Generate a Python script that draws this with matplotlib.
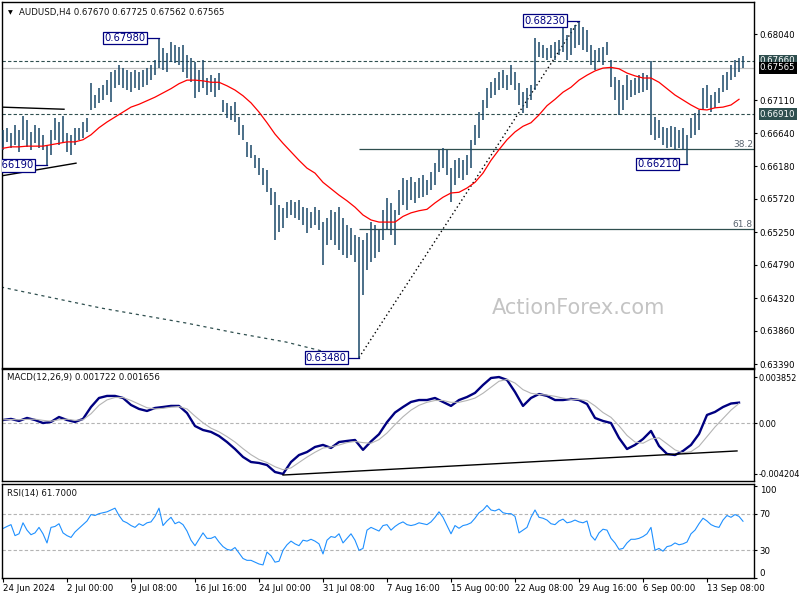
import matplotlib
matplotlib.use("Agg")
import matplotlib.pyplot as plt
from matplotlib.transforms import blended_transform_factory

plt.rcParams['font.family'] = ['DejaVu Sans']

# ---------------- data (8-hour bars) ----------------
highs = [0.6669,0.6672,0.6665,0.6676,0.6669,0.6688,0.6683,0.6666,0.6676,0.6672,
         0.6662,0.6648,0.6669,0.6686,0.6680,0.6688,0.6665,0.6662,0.6672,0.6672,
         0.6680,0.6686,0.6735,0.6718,0.6728,0.6732,0.6739,0.6750,0.6753,0.6760,
         0.6756,0.6753,0.6750,0.6753,0.6750,0.6753,0.6756,0.6760,0.6767,0.6798,
         0.6784,0.6777,0.6793,0.6789,0.6786,0.6789,0.6774,0.6770,0.6765,0.6753,
         0.6767,0.6742,0.6746,0.6742,0.6749,0.6711,0.6707,0.6703,0.6708,0.6687,
         0.6676,0.6652,0.6648,0.6634,0.6629,0.6615,0.6612,0.6587,0.6581,0.6563,
         0.6559,0.6567,0.6570,0.6567,0.6570,0.6560,0.6559,0.6553,0.6560,0.6556,
         0.6539,0.6545,0.6556,0.6553,0.6560,0.6545,0.6535,0.6531,0.6521,0.6518,
         0.6514,0.6524,0.6539,0.6535,0.6528,0.6556,0.6573,0.6566,0.6556,0.6584,
         0.6601,0.6598,0.6603,0.6595,0.6601,0.6605,0.6598,0.6610,0.6622,0.6641,
         0.6643,0.6641,0.6615,0.6626,0.6629,0.6626,0.6634,0.6655,0.6676,0.6694,
         0.6711,0.6728,0.6736,0.6742,0.6750,0.6753,0.6746,0.6760,0.6750,0.6735,
         0.6722,0.6728,0.6732,0.6798,0.6793,0.6789,0.6784,0.6789,0.6793,0.6796,
         0.6820,0.6803,0.6812,0.6817,0.6823,0.6814,0.6810,0.6789,0.6781,0.6784,
         0.6786,0.6793,0.6767,0.6743,0.6739,0.6732,0.6746,0.6739,0.6742,0.6746,
         0.6749,0.6746,0.6766,0.6687,0.6683,0.6673,0.6672,0.6674,0.6673,0.6669,
         0.6672,0.6662,0.6686,0.6693,0.6697,0.6728,0.6732,0.6718,0.6722,0.6728,
         0.6746,0.6750,0.6760,0.6767,0.6770,0.67725]
lows = [0.6641,0.6652,0.6643,0.6648,0.6638,0.6655,0.6645,0.6641,0.6650,0.6643,
        0.6641,0.6619,0.6634,0.6655,0.6648,0.6650,0.6638,0.6634,0.6648,0.6655,
        0.6657,0.6666,0.6697,0.6700,0.6707,0.6711,0.6718,0.6708,0.6728,0.6732,
        0.6728,0.6725,0.6722,0.6728,0.6725,0.6729,0.6732,0.6739,0.6746,0.6756,
        0.6753,0.6750,0.6765,0.6763,0.6760,0.6750,0.6742,0.6736,0.6714,0.6722,
        0.6728,0.6718,0.6722,0.6715,0.6725,0.6694,0.6686,0.6683,0.6680,0.6662,
        0.6655,0.6631,0.6629,0.6615,0.6605,0.6591,0.6581,0.6563,0.6514,0.6525,
        0.6531,0.6545,0.6549,0.6545,0.6542,0.6535,0.6524,0.6531,0.6535,0.6528,
        0.6479,0.6507,0.6514,0.6507,0.6500,0.6493,0.6488,0.6493,0.6483,0.6348,
        0.6436,0.6471,0.6483,0.6488,0.6497,0.6514,0.6528,0.6521,0.6507,0.6549,
        0.6563,0.6556,0.6570,0.6566,0.6573,0.6574,0.6577,0.6584,0.6591,0.6610,
        0.6615,0.6605,0.6567,0.6591,0.6601,0.6598,0.6605,0.6615,0.6648,0.6657,
        0.6683,0.6700,0.6714,0.6718,0.6725,0.6728,0.6725,0.6732,0.6725,0.6704,
        0.6693,0.6700,0.6711,0.6725,0.6772,0.6770,0.6767,0.6770,0.6767,0.6774,
        0.6779,0.6767,0.6774,0.6784,0.6789,0.6781,0.6779,0.6760,0.6753,0.6765,
        0.6760,0.6774,0.6729,0.6711,0.6690,0.6697,0.6711,0.6715,0.6718,0.6721,
        0.6722,0.6725,0.6662,0.6655,0.6657,0.6648,0.6643,0.6645,0.6641,0.6643,
        0.6641,0.6621,0.6657,0.6662,0.6669,0.6697,0.6700,0.6694,0.6700,0.6707,
        0.6722,0.6725,0.6739,0.6743,0.6750,0.67562]

# moving average (every second bar)
ma = [0.6643,0.6645,0.6645,0.6646,0.6646,0.6646,0.6648,0.6650,0.6652,0.6652,
      0.6655,0.6662,0.6672,0.6680,0.6687,0.6694,0.6701,0.6705,0.6710,0.6715,
      0.6721,0.6727,0.6734,0.6739,0.6739,0.6738,0.6736,0.6736,0.6731,0.6725,
      0.6717,0.6707,0.6694,0.6679,0.6663,0.6650,0.6638,0.6626,0.6615,0.6608,
      0.6595,0.6586,0.6577,0.6569,0.6560,0.6549,0.6542,0.6539,0.6539,0.6539,
      0.6547,0.6552,0.6555,0.6557,0.6566,0.6574,0.6580,0.6581,0.6587,0.6595,
      0.6608,0.6626,0.6641,0.6655,0.6666,0.6674,0.6679,0.6690,0.6703,0.6712,
      0.6722,0.6729,0.6739,0.6746,0.6752,0.6756,0.6757,0.6755,0.6749,0.6745,
      0.6742,0.6742,0.6736,0.6727,0.6718,0.6711,0.6704,0.6698,0.6697,0.6700,
      0.6701,0.6704,0.6712]

macd = [0.00028,0.00037,0.00020,0.00045,0.00028,0.00003,0.00012,0.00053,0.00028,0.00012,
        0.00037,0.00136,0.00211,0.00228,0.00228,0.00211,0.00153,0.00120,0.00103,0.00128,
        0.00136,0.00145,0.00145,0.00086,-0.00022,-0.00055,-0.00071,-0.00105,-0.00155,-0.00213,
        -0.00279,-0.00321,-0.00329,-0.00346,-0.00404,-0.00420,-0.00321,-0.00263,-0.00238,-0.00196,
        -0.00179,-0.00204,-0.00155,-0.00146,-0.00138,-0.00220,-0.00150,-0.00090,0.00010,0.00090,
        0.00136,0.00178,0.00194,0.00194,0.00211,0.00178,0.00145,0.00194,0.00219,0.00253,
        0.00319,0.00377,0.00385,0.00361,0.00261,0.00145,0.00211,0.00244,0.00228,0.00194,
        0.00194,0.00203,0.00194,0.00161,0.00045,0.00020,0.00003,-0.00121,-0.00213,-0.00179,
        -0.00130,-0.00063,-0.00188,-0.00254,-0.00263,-0.00229,-0.00179,-0.00088,0.00070,0.00095,
        0.00136,0.00165,0.001722]
signal = [0.00030,0.00032,0.00030,0.00033,0.00035,0.00025,0.00018,0.00030,0.00035,0.00025,
          0.00030,0.00080,0.00150,0.00195,0.00215,0.00215,0.00190,0.00160,0.00130,0.00120,
          0.00125,0.00135,0.00140,0.00120,0.00060,0.00005,-0.00040,-0.00070,-0.00110,-0.00155,
          -0.00210,-0.00260,-0.00300,-0.00325,-0.00360,-0.00385,-0.00370,-0.00325,-0.00280,-0.00240,
          -0.00205,-0.00195,-0.00180,-0.00160,-0.00150,-0.00160,-0.00165,-0.00135,-0.00080,-0.00010,
          0.00055,0.00110,0.00150,0.00175,0.00190,0.00190,0.00175,0.00175,0.00190,0.00210,
          0.00250,0.00300,0.00350,0.00365,0.00335,0.00280,0.00250,0.00240,0.00235,0.00225,
          0.00210,0.00200,0.00198,0.00190,0.00145,0.00090,0.00050,-0.00020,-0.00100,-0.00155,
          -0.00165,-0.00130,-0.00120,-0.00170,-0.00220,-0.00245,-0.00235,-0.00190,-0.00110,-0.00030,
          0.00040,0.00110,0.001656]

rsi = [53.8,56,58,46,48,60,52,47,49,55, 48,38,55,56,59,49,46,44,50,54,
       58,62,69,68,70,71,72,74,76,68, 62,60,57,55,59,57,60,61,67,76,
       57,62,66,59,61,58,51,41,35,42, 49,43,43,45,39,34,31,30,33,27,
       21,19,19,17,15,14,28,24,17,18, 30,36,40,37,35,41,40,42,40,37,
       26,41,45,44,48,38,43,48,41,30, 32,52,55,53,51,57,58,52,56,59,
       61,58,57,58,60,59,58,61,66,72, 66,57,48,57,54,57,58,60,65,71,
       74,79,74,73,75,71,70,70,67,49, 52,55,66,74,66,65,63,59,58,62,
       64,60,61,63,61,60,62,46,41,49, 53,52,43,38,31,32,38,42,42,43,
       45,48,55,30,32,29,34,35,38,36, 37,39,48,52,59,65,62,58,56,55,
       63,68,66,69,67,61.7]

date_labels = ["24 Jun 2024", "2 Jul 00:00", "9 Jul 08:00", "16 Jul 16:00", "24 Jul 00:00",
               "31 Jul 08:00", "7 Aug 16:00", "15 Aug 00:00", "22 Aug 08:00", "29 Aug 16:00",
               "6 Sep 00:00", "13 Sep 08:00"]
price_ticks = [0.68040, 0.67110, 0.66640, 0.66180, 0.65720, 0.65250, 0.64790, 0.64320, 0.63860, 0.63390]
swing_low, swing_high = 0.6348, 0.6823
fib_levels = [38.2, 61.8]
resist_level, support_level, last_price = 0.67660, 0.66910, 0.67565
header = "AUDUSD,H4 0.67670 0.67725 0.67562 0.67565"

# ---------------- layout ----------------
W, H = 800, 600
def rect(x0, y0, x1, y1):
    return [x0 / W, 1 - y1 / H, (x1 - x0) / W, (y1 - y0) / H]

BAR = '#1a4868'
NAVY = '#000080'
SLATE = '#2f4f4f'
TICKFS = 6.2

fig = plt.figure(figsize=(8, 6), dpi=100)
fig.patch.set_facecolor('white')
ax = fig.add_axes(rect(2, 2, 754, 368))
axm = fig.add_axes(rect(2, 369, 754, 481), sharex=ax)
axr = fig.add_axes(rect(2, 484, 754, 578), sharex=ax)

n = len(highs)
idx = list(range(n))
ma_idx = list(range(0, 2 * len(ma), 2))

# ---------------- main price panel ----------------
ax.text(0.767, 0.164, "ActionForex.com", transform=ax.transAxes, fontsize=15,
        color='#c4c4c4', ha='center', va='center', zorder=0)
ax.vlines(idx, lows, highs, color=BAR, lw=1.1, zorder=3)
ax.plot(ma_idx, ma, color='red', lw=0.9, zorder=4)

ax.axhline(resist_level, color=SLATE, lw=0.8, ls=(0, (3, 2)), zorder=2)
ax.axhline(support_level, color=SLATE, lw=0.8, ls=(0, (3, 2)), zorder=2)
ax.axhline(last_price, color='#c0c0c0', lw=0.9, zorder=1)

low_i = lows.index(swing_low)
high_i = highs.index(swing_high)
for lvl in fib_levels:
    p = swing_high - lvl / 100 * (swing_high - swing_low)
    ax.hlines(p, low_i, 188, color=SLATE, lw=0.9, zorder=2)
    ax.text(187.5, p, f"{lvl:.1f}", ha='right', va='bottom', fontsize=6.5, color='#5a6570')

ax.plot([low_i, high_i], [swing_low, swing_high], ls=(0, (1, 2)), color='black', lw=1.0, zorder=2)

# long dashed curve at lower left and triangle lines
ax.plot([-0.5, 24.5, 45.75, 58.25, 70.75, 80.75, 84.5],
        [0.64475, 0.64179, 0.63968, 0.63827, 0.63700, 0.63559, 0.6352],
        color=SLATE, lw=0.9, ls=(0, (2.5, 3)), zorder=2)
ax.plot([-0.5, 15.25], [0.6701, 0.6698], color='black', lw=1.0)
ax.plot([-0.5, 18.25], [0.6604, 0.6622], color='black', lw=1.0)

def tag(text, xbox, price, xbar):
    ax.plot([xbox, xbar], [price, price], color=NAVY, lw=0.9, zorder=5)
    ax.text(xbox - 0.4, price, text, ha='right', va='center', fontsize=7.2, color=NAVY, zorder=6,
            bbox=dict(boxstyle='square,pad=0.12', fc='white', ec=NAVY, lw=0.9), clip_on=True)

tag("0.67980", 36, 0.6798, 39)
tag("0.68230", 141, 0.6823, 144)
tag("0.63480", 86.3, 0.6348, 89)
tag("0.66210", 169.2, 0.6621, 171)
tag("0.66190", 8, 0.6619, 11)

ax.set_xlim(-0.25, 187.75)
ax.set_ylim(0.63334, 0.68491)
ax.yaxis.tick_right()
ax.set_yticks(price_ticks)
ax.set_yticklabels([f"{v:.5f}" for v in price_ticks])
ax.tick_params(axis='y', labelsize=TICKFS, length=2.5, pad=1.5, direction='out')
ax.tick_params(axis='x', bottom=False, labelbottom=False)

tr = blended_transform_factory(ax.transAxes, ax.transData)
for val, bg in [(resist_level, SLATE), (support_level, SLATE), (last_price, 'black')]:
    ax.annotate(f"{val:.5f}", xy=(1.0, val), xycoords=tr, xytext=(4.2, 0),
                textcoords='offset points', ha='left', va='center', fontsize=TICKFS,
                color='white', zorder=10, annotation_clip=False,
                bbox=dict(boxstyle='square,pad=0.15', fc=bg, ec='none'))

ax.text(0.008, 0.97, "\u25BC", transform=ax.transAxes, fontsize=4.5, va='center', ha='left')
ax.text(0.022, 0.97, header, transform=ax.transAxes, fontsize=6.2, va='center', ha='left',
        color='#111111')

# ---------------- MACD panel ----------------
axm.axhline(0, color='#b4b4b4', lw=0.8, ls=(0, (3, 2)))
axm.plot(ma_idx, macd, color=NAVY, lw=1.7)
axm.plot(ma_idx, signal, color='#b4b4b4', lw=0.8)
axm.plot([70, 183.5], [-0.00429, -0.00229], color='black', lw=1.0)
axm.set_ylim(-0.004787, 0.004517)
axm.yaxis.tick_right()
axm.set_yticks([0.003852, 0.0, -0.004204])
axm.set_yticklabels(["0.003852", "0.00", "-0.004204"])
axm.tick_params(axis='y', labelsize=5.9, length=2.5, pad=1.0)
axm.tick_params(axis='x', bottom=False, labelbottom=False)
axm.text(0.007, 0.92, "MACD(12,26,9) 0.001722 0.001656", transform=axm.transAxes,
         fontsize=6.2, va='center', ha='left', color='#111111')

# ---------------- RSI panel ----------------
axr.axhline(70, color='#b4b4b4', lw=0.8, ls=(0, (3, 2)))
axr.axhline(30, color='#b4b4b4', lw=0.8, ls=(0, (3, 2)))
axr.plot(idx, rsi, color='#1e90ff', lw=0.8)
axr.set_ylim(-0.3, 102.4)
axr.yaxis.tick_right()
axr.set_yticks([100, 70, 30, 0])
axr.set_yticklabels(["100", "70", "30", "0"])
axr.tick_params(axis='y', labelsize=TICKFS, length=2.5, pad=1.5)
labs = axr.get_yticklabels()
labs[0].set_va('top')
labs[3].set_va('bottom')
axr.text(0.007, 0.9, "RSI(14) 61.7000", transform=axr.transAxes, fontsize=6.2,
         va='center', ha='left', color='#111111')

axr.set_xticks(list(range(0, 16 * len(date_labels), 16)))
axr.set_xticklabels(date_labels)
axr.tick_params(axis='x', labelsize=TICKFS, length=3, pad=1.5)
for t in axr.get_xticklabels():
    t.set_ha('left')

for a in (ax, axm, axr):
    for s in a.spines.values():
        s.set_color('black')
        s.set_linewidth(1.0)

fig.savefig("out.png", dpi=100, facecolor='white')
